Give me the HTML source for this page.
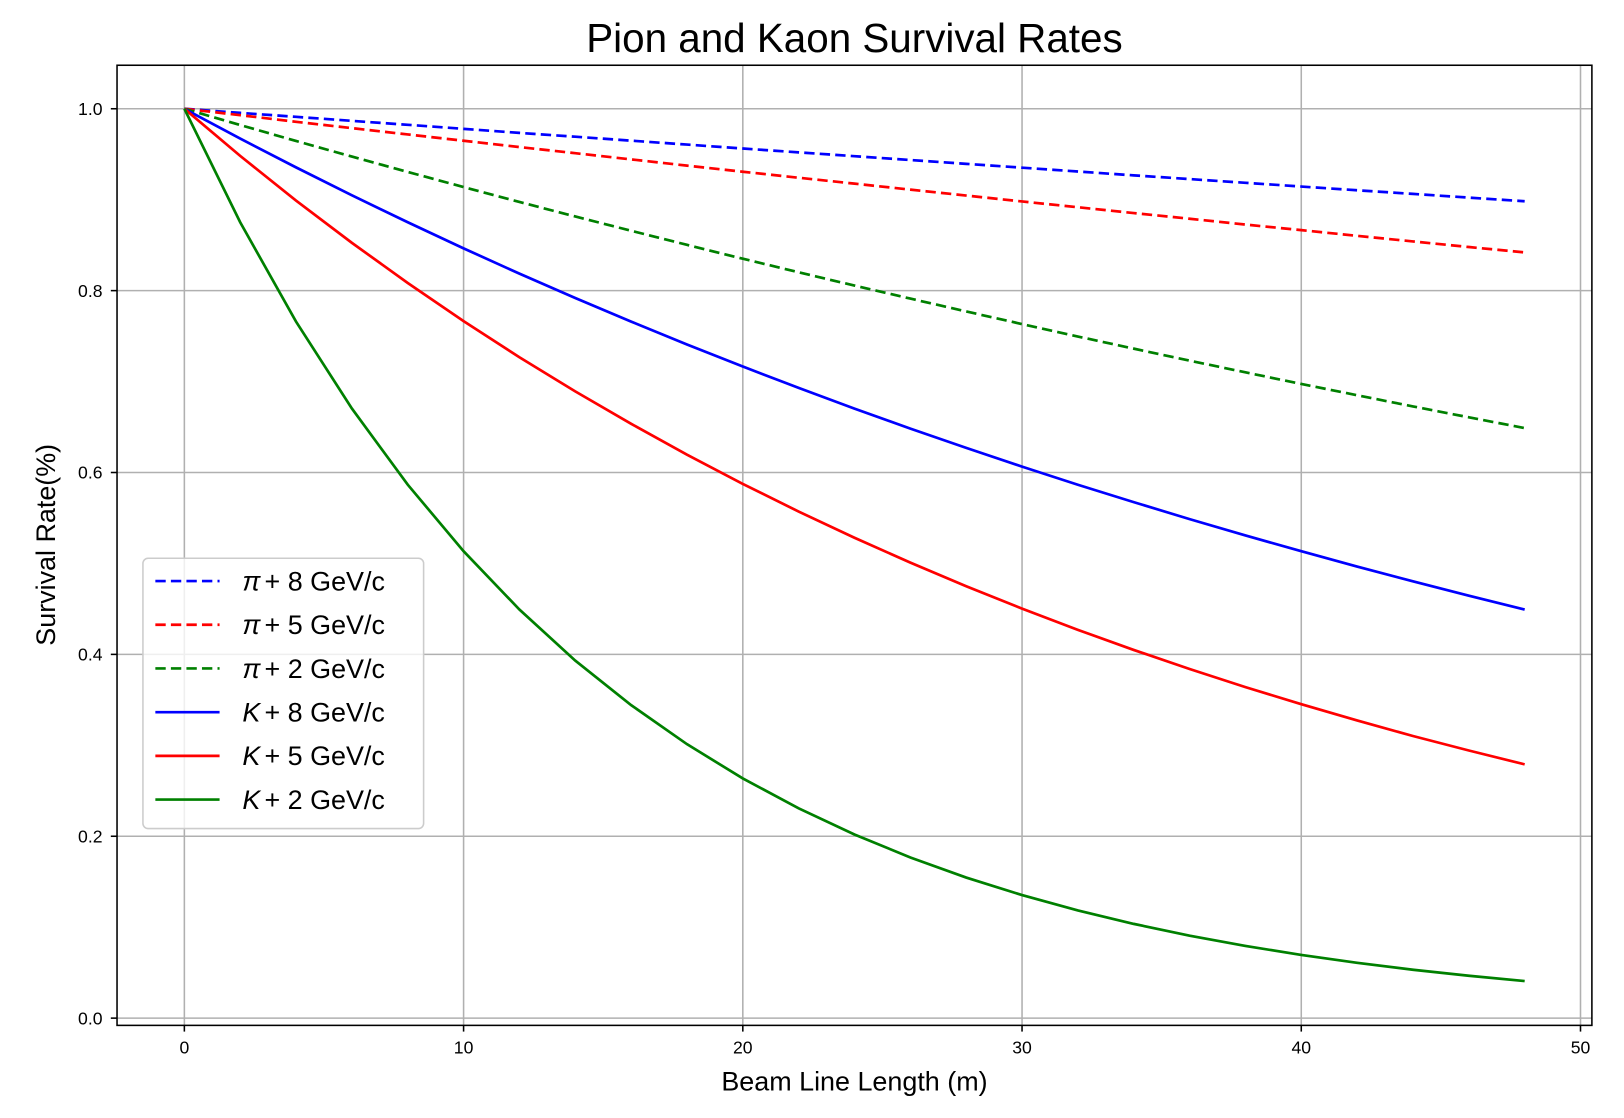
<!DOCTYPE html>
<html><head><meta charset="utf-8"><style>
body{margin:0;background:#fff}
svg text{font-family:"Liberation Sans","DejaVu Sans",sans-serif;fill:#000}
</style></head><body>
<svg id="chart" width="1624" height="1113" viewBox="0 0 1568 1074.6" preserveAspectRatio="none" xmlns="http://www.w3.org/2000/svg">
<rect width="1568" height="1075" fill="#fff"/>
<text x="825" y="50" font-size="39" text-anchor="middle">Pion and Kaon Survival Rates</text>
<g id="grid"></g>
<g id="series"></g>
<rect x="113" y="63" width="1424" height="927" fill="none" stroke="#000" stroke-width="1.5"/>
<g id="axes"></g>
<text x="825" y="1053" font-size="26" text-anchor="middle">Beam Line Length (m)</text>
<text x="0" y="0" font-size="26" text-anchor="middle" transform="translate(53,526) rotate(-90)">Survival Rate(%)</text>
<g id="legend"></g>
</svg>
<script>
const xs=[0,2,4,6,8,10,12,14,16,18,20,22,24,26,28,30,32,34,36,38,40,42,44,46,48];
const pi8=[1,.9955,.9911,.9867,.9823,.9779,.9735,.9692,.9649,.9606,.9563,.9520,.9478,.9436,.9394,.9352,.9310,.9268,.9227,.9186,.9145,.9104,.9064,.9023,.8983];
const pi5=[1,.9929,.9857,.9787,.9717,.9648,.9579,.9511,.9443,.9375,.9308,.9242,.9176,.9110,.9045,.8981,.8917,.8853,.8790,.8727,.8665,.8603,.8541,.8480,.8420];
const pi2=[1,.9821,.9646,.9474,.9305,.9139,.8975,.8815,.8658,.8503,.8351,.8202,.8056,.7912,.7771,.7632,.7496,.7362,.7230,.7101,.6974,.6850,.6727,.6607,.6489];
const k8=[1,.9672,.9355,.9048,.8752,.8465,.8187,.7919,.7659,.7408,.7165,.6930,.6703,.6483,.6271,.6065,.5866,.5674,.5488,.5308,.5134,.4966,.4803,.4646,.4493];
const k5=[1,.9482,.8991,.8525,.8084,.7665,.7268,.6892,.6535,.6196,.5875,.5571,.5282,.5009,.4749,.4503,.4270,.4049,.3839,.3640,.3452,.3273,.3103,.2943,.2790];
const k2=[1,.8752,.7659,.6703,.5866,.5134,.4493,.3932,.3442,.3012,.2636,.2307,.2019,.1767,.1546,.1353,.1184,.1037,.0907,.0794,.0695,.0608,.0532,.0466,.0408];
const xTicks=[0,10,20,30,40,50];
const yTicks=[0.0,0.2,0.4,0.6,0.8,1.0];
const labels=["+ 8 GeV/c","+ 5 GeV/c","+ 2 GeV/c","+ 8 GeV/c","+ 5 GeV/c","+ 2 GeV/c"];
const X=v=>178+v*26.96, Y=v=>983-v*878;
const NS="http://www.w3.org/2000/svg";
function mk(t,a,p){const e=document.createElementNS(NS,t);for(const k in a)e.setAttribute(k,a[k]);p.appendChild(e);return e;}
const grid=document.getElementById('grid'),axes=document.getElementById('axes');
xTicks.forEach(t=>{
 const g=mk('line',{x1:X(t),x2:X(t),y1:63,y2:990,stroke:'#b0b0b0','stroke-width':1.5},grid);
 
 
 const tk=mk('line',{x1:X(t),x2:X(t),y1:990,y2:996,stroke:'#000','stroke-width':1.5},axes);
 
 
 const l=mk('text',{x:X(t),y:1017,'font-size':17,'text-anchor':'middle'},axes);l.textContent=t;
 
 
});
yTicks.forEach(t=>{
 const g=mk('line',{x1:113,x2:1537,y1:Y(t),y2:Y(t),stroke:'#b0b0b0','stroke-width':1.5},grid);
 
 
 const tk=mk('line',{x1:107,x2:113,y1:Y(t),y2:Y(t),stroke:'#000','stroke-width':1.5},axes);
 
 
 const l=mk('text',{x:99,y:Y(t)+6,'font-size':17,'text-anchor':'end'},axes);l.textContent=t.toFixed(1);
 
 
});
const ser=[[pi8,'#0000ff',1],[pi5,'#ff0000',1],[pi2,'#008000',1],[k8,'#0000ff',0],[k5,'#ff0000',0],[k2,'#008000',0]];
const names=['pi-8gev','pi-5gev','pi-2gev','k-8gev','k-5gev','k-2gev'];
const sg=document.getElementById('series');
ser.forEach((s,i)=>{
 const a={d:'M'+s[0].map((v,j)=>X(xs[j]).toFixed(1)+','+Y(v).toFixed(1)).join('L'),fill:'none',stroke:s[1],'stroke-width':2.6};
 if(s[2])a['stroke-dasharray']='10,5';
 const p=mk('path',a,sg);
 
 
});
const lg=document.getElementById('legend');
const box=mk('rect',{x:138,y:539,width:271,height:261,rx:5,fill:'#fff','fill-opacity':0.8,stroke:'#ccc','stroke-width':1.5},lg);


ser.forEach((s,i)=>{
 const y=561+i*42.2;
 const g=mk('g',{},lg);
 
 
 const a={x1:150,x2:212,y1:y,y2:y,stroke:s[1],'stroke-width':2.6};
 if(s[2])a['stroke-dasharray']='10,5';
 mk('line',a,g);
 const t=mk('text',{x:234,y:y+9,'font-size':26},g);
 const it=mk('tspan',{'font-style':'italic'},t);it.textContent=s[2]?'π':'K';
 const r=mk('tspan',{dx:4},t);r.textContent=labels[i];
});
</script>
</body></html>
